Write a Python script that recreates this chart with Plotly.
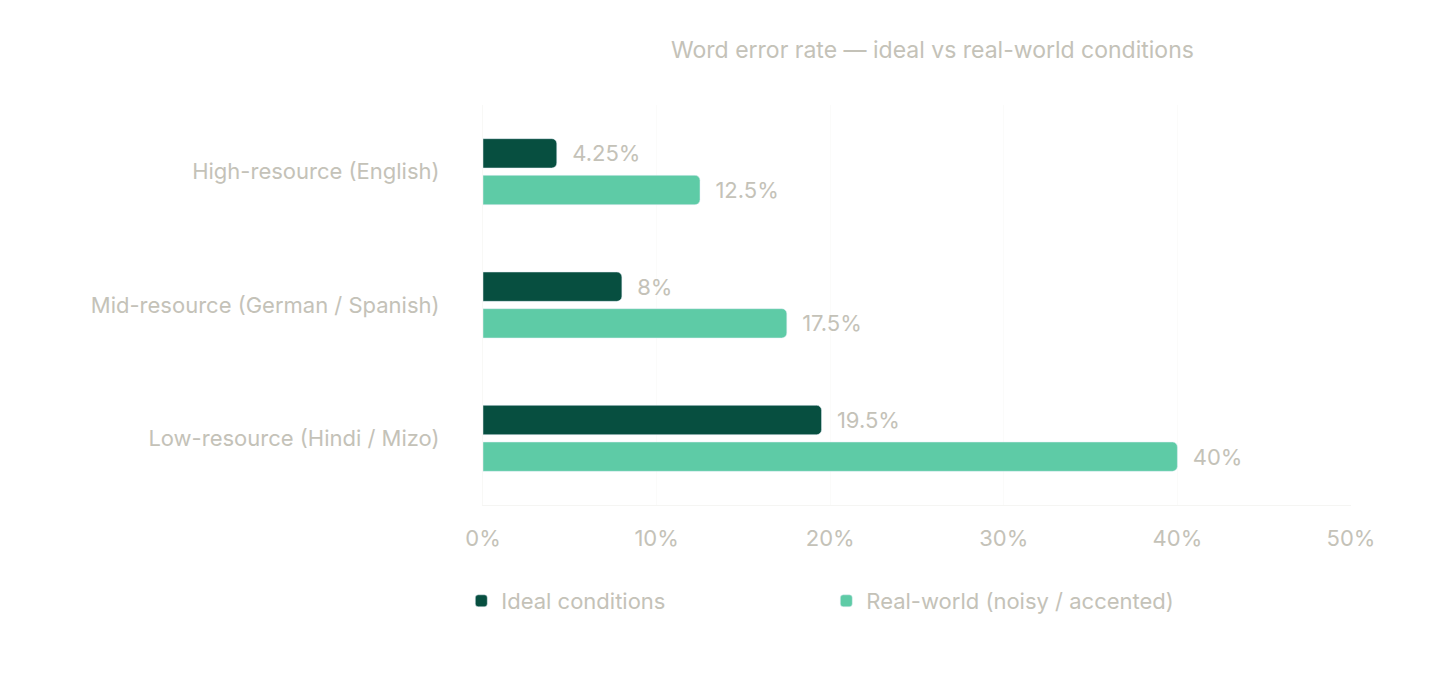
import plotly.graph_objects as go

categories = ["High-resource (English)", "Mid-resource (German / Spanish)", "Low-resource (Hindi / Mizo)"]
ideal = [4.25, 8, 19.5]
real = [12.5, 17.5, 40]
ideal_labels = ["4.25%", "8%", "19.5%"]
real_labels = ["12.5%", "17.5%", "40%"]

txt = "#c4c2b8"
font = dict(family="Inter, Noto Sans, sans-serif", size=22, color=txt)

fig = go.Figure()
fig.add_trace(go.Bar(y=categories, x=ideal, orientation="h", name="Ideal conditions",
                     marker=dict(color="#074f40", cornerradius=5), text=ideal_labels,
                     texttemplate="  %{text}",
                     textposition="outside", textfont=font, cliponaxis=False))
fig.add_trace(go.Bar(y=categories, x=real, orientation="h", name="Real-world (noisy / accented)",
                     marker=dict(color="#5ecba6", cornerradius=5), text=real_labels,
                     texttemplate="  %{text}",
                     textposition="outside", textfont=font, cliponaxis=False))

fig.update_layout(
    width=1440, height=678, paper_bgcolor="white", plot_bgcolor="white",
    margin=dict(l=475, r=97, t=97, b=181),
    barmode="group", bargap=0.45, bargroupgap=0.2,
    font=font,
    title=dict(text="Word error rate — ideal vs real-world conditions", x=0.642, xanchor="center",
               y=0.938, yanchor="middle", font=dict(size=23, color=txt)),
    xaxis=dict(range=[0, 50], tickvals=[0, 10, 20, 30, 40, 50], ticktext=["0%", "10%", "20%", "30%", "40%", "50%"],
               showgrid=True, gridcolor="#fbfbfa", zeroline=False, showline=True, linecolor="#f5f5f3",
               ticks="", tickfont=font, fixedrange=True),
    yaxis=dict(autorange="reversed", showgrid=False, ticks="outside", ticklen=38, tickcolor="rgba(0,0,0,0)",
               tickfont=font, showline=True, linecolor="#f8f8f6"),
    legend=dict(orientation="h", x=-0.025, xanchor="left", y=-0.24, yanchor="middle",
                font=font, itemwidth=30, entrywidth=320, entrywidthmode="pixels"),
    showlegend=True,
)
fig.update_xaxes(ticklabelstandoff=14)
fig.write_html("out.html")
